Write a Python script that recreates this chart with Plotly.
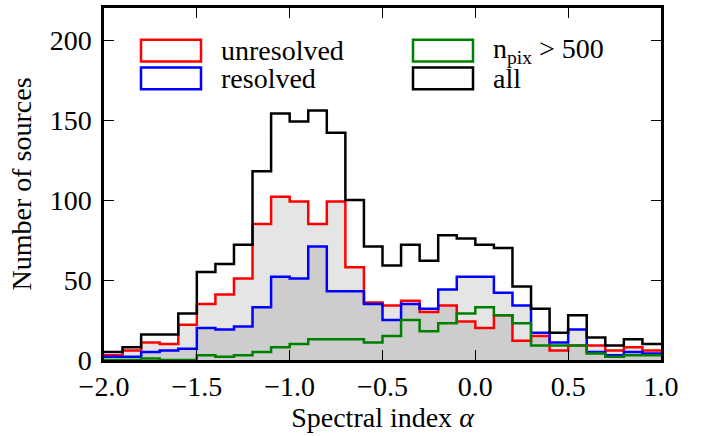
import plotly.graph_objects as go

# ---- data ----
bin_edges = [-2.0, -1.9, -1.8, -1.7, -1.6, -1.5, -1.4, -1.3, -1.2, -1.1,
             -1.0, -0.9, -0.8, -0.7, -0.6, -0.5, -0.4, -0.3, -0.2, -0.1,
             0.0, 0.1, 0.2, 0.3, 0.4, 0.5, 0.6, 0.7, 0.8, 0.9, 1.0]
unresolved = [3, 6, 11, 10, 22, 35, 41, 51, 85, 102, 99, 85, 99, 58, 36,
              34, 37, 30, 34, 24, 20, 28, 12, 15, 6, 9, 9, 6, 8, 6]
resolved = [2, 2, 5, 6, 7, 20, 19, 21, 33, 52, 51, 71, 43, 43, 35,
            25, 35, 32, 44, 52, 52, 42, 34, 17, 11, 19, 5, 3, 5, 4]
npix500 = [0, 0, 1, 0, 0, 3, 2, 3, 5, 8, 10, 13, 13, 13, 11,
           15, 25, 18, 23, 29, 33, 28, 23, 9, 9, 9, 4, 2, 3, 3]
all_src = [5, 8, 16, 16, 29, 55, 60, 72, 118, 154, 149, 156, 142, 100, 71,
           59, 72, 62, 78, 76, 72, 70, 46, 32, 17, 28, 14, 9, 13, 10]
x_ticks = [-2.0, -1.5, -1.0, -0.5, 0.0, 0.5, 1.0]
y_ticks = [0, 50, 100, 150, 200]
legend_labels = ["unresolved", "resolved", "n<sub>pix</sub> > 500", "all"]
colors = ["#ff0000", "#0000ff", "#008000", "#000000"]

FONT = "Liberation Serif"
FS = 28

def step(vals):
    return list(vals) + [vals[-1]]

fig = go.Figure()

# fills (semi-transparent gray, overlap appears darker)
for vals in (unresolved, resolved):
    fig.add_trace(go.Scatter(x=bin_edges, y=step(vals), mode="lines",
                             line=dict(width=0, shape="hv"), fill="tozeroy",
                             fillcolor="rgba(0,0,0,0.10)", showlegend=False,
                             hoverinfo="skip"))

for vals, c, name in zip((unresolved, resolved, npix500, all_src), colors, legend_labels):
    fig.add_trace(go.Scatter(x=bin_edges, y=step(vals), mode="lines",
                             line=dict(color=c, width=2.5, shape="hv"),
                             name=name, showlegend=False))

W, H = 708, 436
L, R, T, B = 104, 47, 5, 76
pw, ph = W - L - R, H - T - B

def px(x):
    return (x - L) / pw

def py(y):
    return (H - B - y) / ph

# manual legend (boxes + text)
leg = [(141, 37, 0), (141, 65, 1), (413, 37, 2), (413, 65, 3)]
shapes = []
annotations = []
for x0, y0, i in leg:
    shapes.append(dict(type="rect", xref="paper", yref="paper",
                       x0=px(x0), x1=px(x0 + 60), y0=py(y0), y1=py(y0 + 22),
                       line=dict(color=colors[i], width=2.5), fillcolor="white"))
    annotations.append(dict(xref="paper", yref="paper", x=px(x0 + 78), y=py(y0 + 11),
                            xanchor="left", yanchor="middle", showarrow=False,
                            text=legend_labels[i],
                            font=dict(family=FONT, size=FS, color="black")))

fig.update_layout(
    width=W, height=H,
    margin=dict(l=L, r=R, t=T, b=B),
    paper_bgcolor="white", plot_bgcolor="white",
    font=dict(family=FONT, size=FS, color="black"),
    shapes=shapes, annotations=annotations,
    showlegend=False,
)
fig.update_xaxes(range=[-2.0, 1.0], tickvals=x_ticks, tickformat=".1f",
                 showgrid=False, zeroline=False, showline=True, linecolor="black",
                 linewidth=2.5, mirror="allticks", ticks="inside", ticklen=10,
                 tickwidth=1.2, tickcolor="black", ticklabelstandoff=0,
                 title=dict(text="Spectral index <i>α</i>", standoff=2,
                            font=dict(family=FONT, size=FS)))
fig.update_yaxes(range=[0, 220], tickvals=y_ticks,
                 showgrid=False, zeroline=False, showline=True, linecolor="black",
                 linewidth=2.5, mirror="allticks", ticks="inside", ticklen=10,
                 tickwidth=1.2, tickcolor="black", ticklabelstandoff=4,
                 title=dict(text="Number of sources", standoff=10,
                            font=dict(family=FONT, size=FS)))

fig.write_html("out.html", config={"displayModeBar": False},
               post_script="document.body.style.margin='0px';document.body.style.overflow='hidden';")
